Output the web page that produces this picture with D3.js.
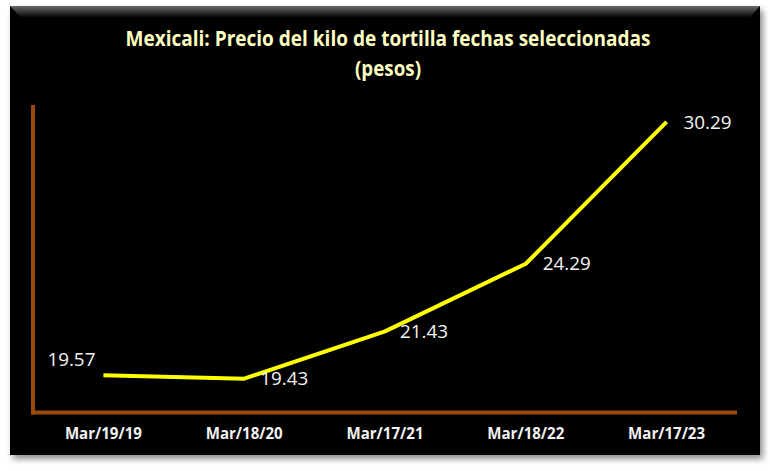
<!DOCTYPE html>
<html><head><meta charset="utf-8">
<script src="https://cdn.jsdelivr.net/npm/d3@7"></script>
<style>body{margin:0;background:#fff;}svg{display:block;}</style>
</head><body>
<script>
const categories = ["Mar/19/19","Mar/18/20","Mar/17/21","Mar/18/22","Mar/17/23"];
const values = [19.57, 19.43, 21.43, 24.29, 30.29];
const labels = ["19.57","19.43","21.43","24.29","30.29"];
const titleLines = ["Mexicali: Precio del kilo de tortilla fechas seleccionadas","(pesos)"];
const yDomain = [18, 31];

const W = 770, H = 471;
const svg = d3.select("body").append("svg").attr("width", W).attr("height", H);
const defs = svg.append("defs");
const f = defs.append("filter").attr("id","sh").attr("x","-5%").attr("y","-5%").attr("width","112%").attr("height","115%");
f.append("feGaussianBlur").attr("in","SourceAlpha").attr("stdDeviation",3);
f.append("feOffset").attr("dx",3).attr("dy",4).attr("result","b");
f.append("feComponentTransfer").append("feFuncA").attr("type","linear").attr("slope",0.45);
const m = f.append("feMerge"); m.append("feMergeNode"); m.append("feMergeNode").attr("in","SourceGraphic");
const g = defs.append("linearGradient").attr("id","bev").attr("x1",0).attr("y1",0).attr("x2",0).attr("y2",1);
g.append("stop").attr("offset","0").attr("stop-color","#6a6a6a");
g.append("stop").attr("offset","1").attr("stop-color","#070707");

svg.append("rect").attr("x",10).attr("y",6).attr("width",750).attr("height",449).attr("fill","#060606").attr("filter","url(#sh)");
svg.append("path").attr("d","M10,6 L760,6 L750,17 L20,17 Z").attr("fill","url(#bev)");

const x = d3.scaleBand().domain(categories).range([33, 737]);
const y = d3.scaleLinear().domain(yDomain).range([412.5, 105]);
const cx = d => x(d) + x.bandwidth()/2;

// axes
const axisColor = "#9b4a0c";
svg.append("line").attr("x1",33).attr("x2",33).attr("y1",y(yDomain[1])).attr("y2",y(yDomain[0])+2).attr("stroke",axisColor).attr("stroke-width",4);
svg.append("line").attr("x1",31).attr("x2",737).attr("y1",y(yDomain[0])).attr("y2",y(yDomain[0])).attr("stroke",axisColor).attr("stroke-width",4);

// tick labels
svg.append("g").selectAll("text").data(categories).join("text")
  .attr("x", d => cx(d)).attr("y", 439)
  .attr("text-anchor","middle")
  .attr("font-family","Open Sans").attr("font-weight","bold").attr("font-size",15.5)
  .attr("textLength",77).attr("lengthAdjust","spacingAndGlyphs")
  .attr("fill","#f2f2f2").text(d => d);

// line
const line = d3.line().x((d,i) => cx(categories[i])).y(d => y(d));
svg.append("path").datum(values).attr("d", line).attr("fill","none").attr("stroke","#ffff00").attr("stroke-width",4).attr("stroke-linejoin","round");

// data labels
const lblOff = [[-32,-9],[40,6],[39,7],[41,6],[41,7]];
svg.append("g").selectAll("text").data(values).join("text")
  .attr("x",(d,i) => cx(categories[i]) + lblOff[i][0])
  .attr("y",(d,i) => y(d) + lblOff[i][1])
  .attr("text-anchor","middle")
  .attr("font-family","Open Sans").attr("font-size",18.5)
  .attr("textLength",48).attr("lengthAdjust","spacingAndGlyphs")
  .attr("fill","#f4f4f4").text((d,i) => labels[i]);

// title
const tt = svg.append("g");
tt.append("text").attr("x",388).attr("y",46).attr("text-anchor","middle")
  .attr("font-family","Open Sans").attr("font-weight","bold").attr("font-size",22)
  .attr("textLength",525).attr("lengthAdjust","spacingAndGlyphs")
  .attr("fill","#ffffc2").text(titleLines[0]);
tt.append("text").attr("x",388).attr("y",76).attr("text-anchor","middle")
  .attr("font-family","Open Sans").attr("font-weight","bold").attr("font-size",22)
  .attr("textLength",66).attr("lengthAdjust","spacingAndGlyphs")
  .attr("fill","#ffffc2").text(titleLines[1]);
</script>
</body></html>
